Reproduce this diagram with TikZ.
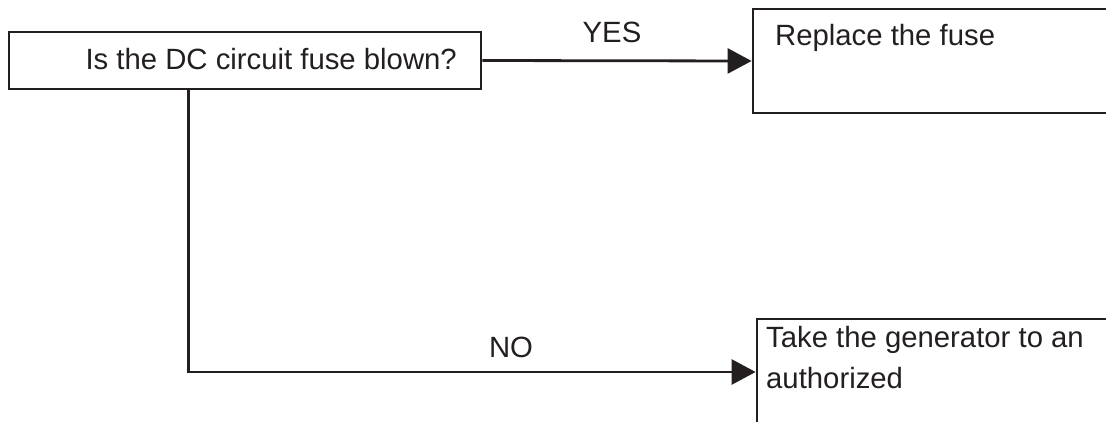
\documentclass[tikz,border=0pt]{standalone}
\usepackage{fontspec}
\setmainfont{Liberation Sans}
\usetikzlibrary{arrows.meta,calc}
\definecolor{ink}{HTML}{231F20}
\tikzset{
  box/.style={draw=ink, line width=2.8pt, rectangle, inner sep=0pt, fill=white},
  conn/.style={draw=ink, line width=2.8pt, -{Triangle[length=24pt,width=25pt]}},
  txt/.style={text=ink, inner sep=0pt, font=\fontsize{29.3}{41}\selectfont},
}
\begin{document}
\begin{tikzpicture}[x=1pt,y=-1pt]
\useasboundingbox (0,0) rectangle (1106,421);
\clip (0,0) rectangle (1106,421);
\fill[white] (0,0) rectangle (1106,421);
% boxes
\node[box, minimum width=472pt, minimum height=57pt] (b1) at (245,60.5) {};
\node[txt, anchor=base east] (t1) at (457,69) {Is the DC circuit fuse blown?};
\node[box, minimum width=377pt, minimum height=104pt] (b2) at (941.5,61) {};
\node[txt, anchor=base west] (t2) at (775,45) {Replace the fuse};
\node[box, minimum width=373pt, minimum height=106pt] (b3) at (943.5,372) {};
\node[txt, anchor=base west] (t3a) at (766,347) {Take the generator to an};
\node[txt, anchor=base west] (t3b) at (766,388) {authorized};
% connectors
\draw[conn] (b1.east) -- (b2.west);
\coordinate (s1) at ($(b1.south west)+(181,0)$);
\draw[conn] (s1) |- (b3.west);
% labels
\node[txt, anchor=base] (yes) at (612,42) {YES};
\node[txt, anchor=base] (no) at (511,357) {NO};
\end{tikzpicture}
\end{document}
